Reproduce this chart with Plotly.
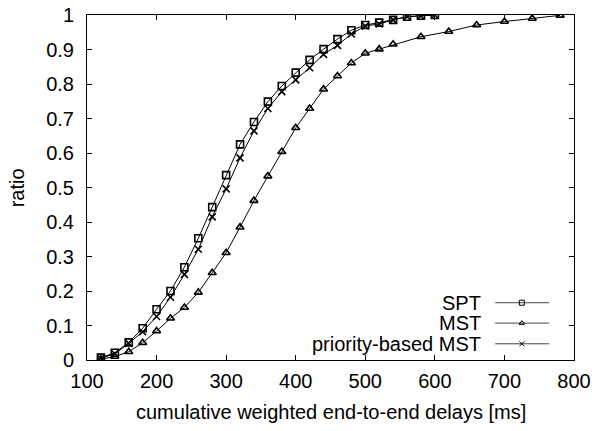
import plotly.graph_objects as go

# ---- data ----
spt_x = [120, 140, 160, 180, 200, 220, 240, 260, 280, 300, 320, 340, 360, 380, 400, 420, 440, 460, 480, 500, 520, 540, 560, 580, 600]
spt_y = [0.007, 0.021, 0.051, 0.092, 0.147, 0.200, 0.269, 0.353, 0.443, 0.536, 0.625, 0.690, 0.749, 0.794, 0.833, 0.870, 0.901, 0.930, 0.956, 0.971, 0.978, 0.986, 0.995, 0.998, 1.0]

mst_x = [120, 140, 160, 180, 200, 220, 240, 260, 280, 300, 320, 340, 360, 380, 400, 420, 440, 460, 480, 500, 520, 540, 580, 620, 660, 700, 740, 780]
mst_y = [0.002, 0.010, 0.024, 0.050, 0.084, 0.121, 0.152, 0.196, 0.253, 0.311, 0.385, 0.462, 0.533, 0.604, 0.673, 0.729, 0.785, 0.823, 0.861, 0.889, 0.901, 0.915, 0.937, 0.952, 0.971, 0.981, 0.990, 0.999]

pri_x = [120, 140, 160, 180, 200, 220, 240, 260, 280, 300, 320, 340, 360, 380, 400, 420, 440, 460, 480, 500, 520, 540, 560, 580, 600]
pri_y = [0.005, 0.018, 0.048, 0.082, 0.126, 0.182, 0.248, 0.321, 0.415, 0.496, 0.586, 0.664, 0.729, 0.778, 0.812, 0.847, 0.886, 0.912, 0.945, 0.968, 0.974, 0.986, 0.995, 0.997, 1.0]

series_names = ["SPT", "MST", "priority-based MST"]
x_ticks = [100, 200, 300, 400, 500, 600, 700, 800]
y_ticks = [0, 0.1, 0.2, 0.3, 0.4, 0.5, 0.6, 0.7, 0.8, 0.9, 1]
y_tick_text = ["0", "0.1", "0.2", "0.3", "0.4", "0.5", "0.6", "0.7", "0.8", "0.9", "1"]
x_title = "cumulative weighted end-to-end delays [ms]"
y_title = "ratio"

FONT = "Liberation Sans, Arial, sans-serif"
FS = 20

symbols = ["square-open", "triangle-up-open", "x-thin-open"]
xs = [spt_x, mst_x, pri_x]
ys = [spt_y, mst_y, pri_y]

fig = go.Figure()
for name, x, y, sym in zip(series_names, xs, ys, symbols):
    fig.add_trace(go.Scatter(
        x=x, y=y, mode="lines+markers", name=name,
        line=dict(color="black", width=1),
        marker=dict(symbol=sym, size=7, color="black", line=dict(color="black", width=1.6)),
        showlegend=False,
    ))

# gnuplot-style key (sample on the right of the text), on an overlay axis
key_y = [0.166, 0.107, 0.047]
for name, ky, sym in zip(series_names, key_y, symbols):
    fig.add_trace(go.Scatter(
        x=[0.838, 0.949], y=[ky, ky], mode="lines", xaxis="x2", yaxis="y2",
        line=dict(color="#444", width=1), showlegend=False, hoverinfo="skip"))
    fig.add_trace(go.Scatter(
        x=[0.893], y=[ky], mode="markers", xaxis="x2", yaxis="y2",
        marker=dict(symbol=sym, size=5, color="black", line=dict(color="black", width=1)),
        showlegend=False, hoverinfo="skip"))
    fig.add_annotation(x=0.813, y=ky, xref="x2", yref="y2", text=name,
                       showarrow=False, xanchor="right", yanchor="middle",
                       font=dict(family=FONT, size=FS, color="black"))

# axis titles
fig.add_annotation(x=0.5, y=-0.150, xref="paper", yref="paper", text=x_title,
                   showarrow=False, xanchor="center", yanchor="middle",
                   font=dict(family=FONT, size=FS, color="black"))
fig.add_annotation(x=-0.144, y=0.5, xref="paper", yref="paper", text=y_title,
                   showarrow=False, xanchor="center", yanchor="middle", textangle=-90,
                   font=dict(family=FONT, size=FS, color="black"))

axis_common = dict(showgrid=False, zeroline=False, showline=True, linecolor="black",
                   linewidth=1, mirror="allticks", ticks="inside", ticklen=5,
                   tickcolor="black", tickwidth=1, automargin=False,
                   ticklabeloverflow="allow",
                   tickfont=dict(family=FONT, size=FS, color="black"))

fig.update_layout(
    width=592, height=431,
    margin=dict(l=87, r=18, t=15, b=71),
    paper_bgcolor="white", plot_bgcolor="white",
    font=dict(family=FONT, size=FS, color="black"),
    xaxis=dict(range=[100, 800], tickvals=x_ticks, ticklabelstandoff=3, **axis_common),
    yaxis=dict(range=[0, 1], tickvals=y_ticks, ticktext=y_tick_text,
               ticklabelstandoff=8, **axis_common),
    xaxis2=dict(range=[0, 1], overlaying="x", visible=False, fixedrange=True),
    yaxis2=dict(range=[0, 1], overlaying="y", visible=False, fixedrange=True),
)

# remove the default 8px page margin so the figure sits at the window's top-left
fig.write_html("out.html", config={"displayModeBar": False},
               post_script="document.body.style.margin='0';")
